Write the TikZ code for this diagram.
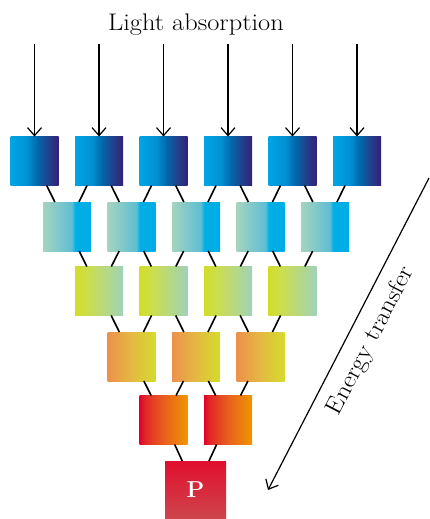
\documentclass[tikz,border=0pt]{standalone}
\usepackage{graphicx}
\usetikzlibrary{arrows.meta}

% colour stops of the antenna rows
\definecolor{bA1}{RGB}{0,165,228}
\definecolor{bA2}{RGB}{0,145,212}
\definecolor{bA3}{RGB}{0,105,172}
\definecolor{bA4}{RGB}{30,70,145}
\definecolor{bA5}{RGB}{52,32,118}
\definecolor{bB1}{RGB}{165,212,190}
\definecolor{bB2}{RGB}{95,190,212}
\definecolor{bB3}{RGB}{0,175,230}
\definecolor{bB4}{RGB}{0,172,230}
\definecolor{bC1}{RGB}{208,222,40}
\definecolor{bC2}{RGB}{205,222,75}
\definecolor{bC3}{RGB}{160,210,185}
\definecolor{bD1}{RGB}{236,145,75}
\definecolor{bD2}{RGB}{228,185,65}
\definecolor{bD3}{RGB}{212,220,45}
\definecolor{bE1}{RGB}{225,0,45}
\definecolor{bE2}{RGB}{228,40,40}
\definecolor{bE3}{RGB}{232,95,30}
\definecolor{bE4}{RGB}{240,150,0}
\definecolor{bP1}{RGB}{205,70,75}
\definecolor{bP2}{RGB}{225,15,45}

% the visible part of a shading runs from 25bp to 75bp
\pgfdeclarehorizontalshading{rowA}{100bp}{color(0bp)=(bA1); color(25bp)=(bA1); color(42.5bp)=(bA2); color(52.5bp)=(bA3); color(62.5bp)=(bA4); color(75bp)=(bA5); color(100bp)=(bA5)}
\pgfdeclarehorizontalshading{rowB}{100bp}{color(0bp)=(bB1); color(25bp)=(bB1); color(55bp)=(bB2); color(58.5bp)=(bB3); color(75bp)=(bB4); color(100bp)=(bB4)}
\pgfdeclarehorizontalshading{rowC}{100bp}{color(0bp)=(bC1); color(25bp)=(bC1); color(37.5bp)=(bC2); color(75bp)=(bC3); color(100bp)=(bC3)}
\pgfdeclarehorizontalshading{rowD}{100bp}{color(0bp)=(bD1); color(25bp)=(bD1); color(50bp)=(bD2); color(75bp)=(bD3); color(100bp)=(bD3)}
\pgfdeclarehorizontalshading{rowE}{100bp}{color(0bp)=(bE1); color(25bp)=(bE1); color(31bp)=(bE2); color(50bp)=(bE3); color(75bp)=(bE4); color(100bp)=(bE4)}
\pgfdeclareverticalshading{centre}{100bp}{color(0bp)=(bP1); color(25bp)=(bP1); color(75bp)=(bP2); color(100bp)=(bP2)}

\begin{document}
\begin{tikzpicture}[x=1pt, y=-1pt,
  cellbox/.style={minimum width=48pt, minimum height=49pt, inner sep=0pt, outer sep=0pt, draw=none},
  link/.style={line width=1.6pt, black},
  lightarrow/.style={line width=1.2pt, black, -{Straight Barb[length=8pt, width=14pt, line width=1.2pt]}},
  labeltext/.style={font=\fontsize{24}{28}\selectfont, inner sep=0pt}
]
\useasboundingbox (0,0) rectangle (429,519);

% row 1
\foreach \i/\x in {1/34.5, 2/99, 3/163.5, 4/228, 5/292.5, 6/357}
  \node[cellbox, shading=rowA] (a\i) at (\x,161) {};
% row 2
\foreach \i/\x in {1/67, 2/131.5, 3/196, 4/260.5, 5/325}
  \node[cellbox, shading=rowB] (b\i) at (\x,226.5) {};
% row 3
\foreach \i/\x in {1/99, 2/163.5, 3/228, 4/292.5}
  \node[cellbox, shading=rowC] (c\i) at (\x,291) {};
% row 4
\foreach \i/\x in {1/131.5, 2/196, 3/260.5}
  \node[cellbox, shading=rowD] (d\i) at (\x,356.5) {};
% row 5
\foreach \i/\x in {1/163.5, 2/228}
  \node[cellbox, shading=rowE] (e\i) at (\x,420) {};
% reaction centre
\node[cellbox, minimum width=61pt, minimum height=58pt, shading=centre,
      text=white, font=\fontsize{23}{26}\selectfont\bfseries] (p) at (195.5,490) {P};

% links between neighbouring rows
\foreach \u/\l/\n in {a/b/5, b/c/4, c/d/3, d/e/2} {
  \foreach \k [evaluate=\k as \kk using int(\k+1)] in {1,...,\n} {
    \draw[link] (\u\k) -- (\l\k);
    \draw[link] (\u\kk) -- (\l\k);
  }
}
\draw[link] (e1) -- (p);
\draw[link] (e2) -- (p);

% incoming light
\node[labeltext, anchor=base] (lt) at (196,30.5) {\scalebox{1.1}[1]{Light absorption}};
\foreach \i/\x in {1/34.5, 2/99, 3/163.5, 4/228, 5/292.5, 6/357} {
  \coordinate (t\i) at (\x,44);
  \draw[lightarrow] (t\i) -- (a\i.north);
}

% energy flow
\coordinate (f0) at (429,178);
\coordinate (f1) at (268,490);
\draw[lightarrow] (f0) -- (f1);
\node[labeltext, rotate=62.7] (et) at (371,341) {\scalebox{1.1}[1]{Energy transfer}};
\end{tikzpicture}
\end{document}
